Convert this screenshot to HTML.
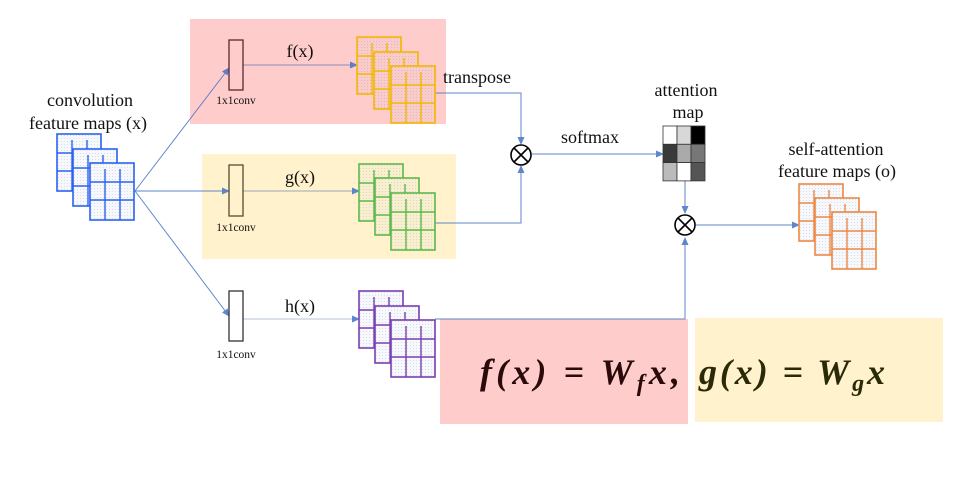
<!DOCTYPE html>
<html><head><meta charset="utf-8"><style>
body{margin:0;background:#fff}
svg{display:block}
text{font-family:"Liberation Serif",serif;fill:#111}
</style></head><body>
<svg width="966" height="489" viewBox="0 0 966 489" xmlns="http://www.w3.org/2000/svg">
<defs>
<pattern id="dots" width="3" height="3" patternUnits="userSpaceOnUse"><rect width="3" height="3" fill="#f6f8fc"/><rect x="1" y="1" width="0.7" height="0.7" fill="#b8c2da"/></pattern>
<pattern id="dotsP" width="3" height="3" patternUnits="userSpaceOnUse"><rect width="3" height="3" fill="#f9cccc"/><rect x="1" y="1" width="0.7" height="0.7" fill="#d99"/></pattern>
<pattern id="dotsY" width="3" height="3" patternUnits="userSpaceOnUse"><rect width="3" height="3" fill="#f8efcf"/><rect x="1" y="1" width="0.7" height="0.7" fill="#cbb"/></pattern>
<marker id="ar" markerWidth="8" markerHeight="8" refX="7" refY="4" orient="auto" markerUnits="userSpaceOnUse"><path d="M0,0.5 L8,4 L0,7.5z" fill="#4472c4"/></marker>
<g id="sq"><rect x="0" y="0" width="44" height="57" stroke-width="1.6"/><line x1="15" y1="6" x2="15" y2="57" stroke-width="1.4"/><line x1="30" y1="6" x2="30" y2="57" stroke-width="1.4"/><line x1="0" y1="19" x2="44" y2="19" stroke-width="1.4"/><line x1="0" y1="37" x2="44" y2="37" stroke-width="1.4"/></g>
</defs>
<rect x="190" y="19" width="256" height="105" fill="#ffcccc"/>
<rect x="202" y="154" width="254" height="105" fill="#fff2cc"/>
<rect x="440" y="319" width="248" height="105" fill="#ffcccc"/>
<rect x="695" y="318" width="248" height="104" fill="#fff2cc"/>

<g stroke="#4472c4" stroke-width="1" fill="none" opacity="0.85">
<line x1="135" y1="191" x2="229" y2="68" marker-end="url(#ar)"/>
<line x1="135" y1="191" x2="229" y2="191" marker-end="url(#ar)"/>
<line x1="135" y1="191" x2="229" y2="316" marker-end="url(#ar)"/>
<line x1="243" y1="65" x2="357" y2="65" stroke="#7a7fb8" marker-end="url(#ar)"/>
<line x1="243" y1="191" x2="359" y2="191" stroke="#8a9ab8" marker-end="url(#ar)"/>
<line x1="243" y1="319" x2="359" y2="319" stroke="#a8b8d8" marker-end="url(#ar)"/>
<polyline points="435,93 521,93 521,144" marker-end="url(#ar)"/>
<polyline points="435,223 521,223 521,166" marker-end="url(#ar)"/>
<line x1="532" y1="154" x2="663" y2="154" marker-end="url(#ar)"/>
<line x1="685" y1="181" x2="685" y2="213" marker-end="url(#ar)"/>
<polyline points="435,319 685,319 685,238" marker-end="url(#ar)"/>
<line x1="696" y1="225" x2="799" y2="225" marker-end="url(#ar)"/>
</g>

<g stroke="#2b63f0" fill="url(#dots)">
<use href="#sq" x="57" y="134"/><use href="#sq" x="73" y="149"/><use href="#sq" x="90" y="163"/>
</g>
<g stroke="#f2b800" fill="url(#dotsP)">
<use href="#sq" x="357" y="37"/><use href="#sq" x="374" y="52"/><use href="#sq" x="391" y="66"/>
</g>
<g stroke="#5cb84a" fill="url(#dotsY)">
<use href="#sq" x="359" y="164"/><use href="#sq" x="375" y="178"/><use href="#sq" x="391" y="193"/>
</g>
<g stroke="#7a3fb0" fill="url(#dots)">
<use href="#sq" x="359" y="291"/><use href="#sq" x="375" y="306"/><use href="#sq" x="391" y="320"/>
</g>
<g stroke="#ee8844" fill="url(#dots)">
<use href="#sq" x="799" y="184"/><use href="#sq" x="815" y="198"/><use href="#sq" x="832" y="212"/>
</g>

<rect x="229" y="40" width="14" height="50" fill="none" stroke="#5a2a2a" stroke-width="1.3"/>
<rect x="229" y="165" width="14" height="51" fill="none" stroke="#5a4a30" stroke-width="1.3"/>
<rect x="229" y="291" width="14" height="50" fill="#fff" stroke="#333" stroke-width="1.3"/>
<g font-size="11.5" text-anchor="middle">
<text x="236" y="104">1x1conv</text><text x="236" y="231">1x1conv</text><text x="236" y="358">1x1conv</text>
</g>
<g font-size="18" text-anchor="middle">
<text x="300" y="57">f(x)</text><text x="300" y="183">g(x)</text><text x="300" y="312">h(x)</text>
<text x="90" y="106">convolution</text><text x="88" y="129">feature maps (x)</text>
<text x="477" y="83">transpose</text>
<text x="590" y="143">softmax</text>
<text x="686" y="96">attention</text><text x="688" y="118">map</text>
<text x="836" y="155">self-attention</text><text x="837" y="177">feature maps (o)</text>
</g>

<g fill="#fff" stroke="#000" stroke-width="1.6">
<circle cx="521" cy="155" r="10"/><line x1="514" y1="148" x2="528" y2="162"/><line x1="528" y1="148" x2="514" y2="162"/>
<circle cx="685" cy="225" r="10"/><line x1="678" y1="218" x2="692" y2="232"/><line x1="692" y1="218" x2="678" y2="232"/>
</g>

<g stroke="#333" stroke-width="0.8">
<rect x="663" y="126" width="14" height="18.3" fill="#fff"/><rect x="677" y="126" width="14" height="18.3" fill="#d8d8d8"/><rect x="691" y="126" width="14" height="18.3" fill="#000"/>
<rect x="663" y="144.3" width="14" height="18.3" fill="#3a3a3a"/><rect x="677" y="144.3" width="14" height="18.3" fill="#aaa"/><rect x="691" y="144.3" width="14" height="18.3" fill="#777"/>
<rect x="663" y="162.6" width="14" height="18.3" fill="#bbb"/><rect x="677" y="162.6" width="14" height="18.3" fill="#fff"/><rect x="691" y="162.6" width="14" height="18.3" fill="#555"/>
</g>

<g font-size="36" font-weight="bold" font-style="italic">
<text x="480" y="384" textLength="200" lengthAdjust="spacing" style="fill:#2a0a0a">f(x) = W<tspan font-size="24" dy="7">f</tspan><tspan dy="-7">x,</tspan></text>
<text x="699" y="384" textLength="186" lengthAdjust="spacing" style="fill:#2a2a08">g(x) = W<tspan font-size="24" dy="7">g</tspan><tspan dy="-7">x</tspan></text>
</g>
</svg>
</body></html>
